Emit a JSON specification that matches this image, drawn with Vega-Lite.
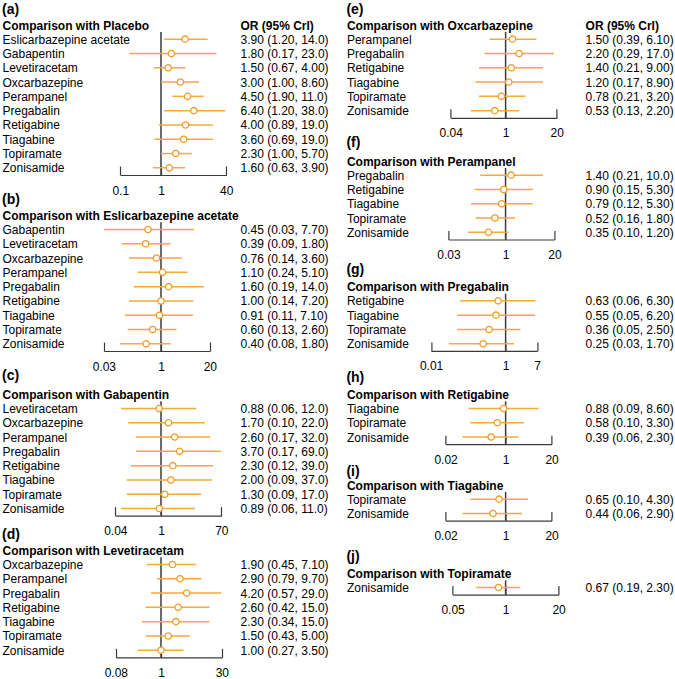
{
"$schema": "https://vega.github.io/schema/vega-lite/v6.json",
"padding": {"left": 2, "top": 3, "right": 0, "bottom": 0},
"background": "white",
"datasets": {"forest": [
{"panel":"a","name":"Eslicarbazepine acetate","or":3.9,"lo":1.2,"hi":14,"ci":"3.90 (1.20, 14.0)"},
{"panel":"a","name":"Gabapentin","or":1.8,"lo":0.17,"hi":23,"ci":"1.80 (0.17, 23.0)"},
{"panel":"a","name":"Levetiracetam","or":1.5,"lo":0.67,"hi":4,"ci":"1.50 (0.67, 4.00)"},
{"panel":"a","name":"Oxcarbazepine","or":3.0,"lo":1.0,"hi":8.6,"ci":"3.00 (1.00, 8.60)"},
{"panel":"a","name":"Perampanel","or":4.5,"lo":1.9,"hi":11,"ci":"4.50 (1.90, 11.0)"},
{"panel":"a","name":"Pregabalin","or":6.4,"lo":1.2,"hi":38,"ci":"6.40 (1.20, 38.0)"},
{"panel":"a","name":"Retigabine","or":4.0,"lo":0.89,"hi":19,"ci":"4.00 (0.89, 19.0)"},
{"panel":"a","name":"Tiagabine","or":3.6,"lo":0.69,"hi":19,"ci":"3.60 (0.69, 19.0)"},
{"panel":"a","name":"Topiramate","or":2.3,"lo":1.0,"hi":5.7,"ci":"2.30 (1.00, 5.70)"},
{"panel":"a","name":"Zonisamide","or":1.6,"lo":0.63,"hi":3.9,"ci":"1.60 (0.63, 3.90)"},
{"panel":"b","name":"Gabapentin","or":0.45,"lo":0.03,"hi":7.7,"ci":"0.45 (0.03, 7.70)"},
{"panel":"b","name":"Levetiracetam","or":0.39,"lo":0.09,"hi":1.8,"ci":"0.39 (0.09, 1.80)"},
{"panel":"b","name":"Oxcarbazepine","or":0.76,"lo":0.14,"hi":3.6,"ci":"0.76 (0.14, 3.60)"},
{"panel":"b","name":"Perampanel","or":1.1,"lo":0.24,"hi":5.1,"ci":"1.10 (0.24, 5.10)"},
{"panel":"b","name":"Pregabalin","or":1.6,"lo":0.19,"hi":14,"ci":"1.60 (0.19, 14.0)"},
{"panel":"b","name":"Retigabine","or":1.0,"lo":0.14,"hi":7.2,"ci":"1.00 (0.14, 7.20)"},
{"panel":"b","name":"Tiagabine","or":0.91,"lo":0.11,"hi":7.1,"ci":"0.91 (0.11, 7.10)"},
{"panel":"b","name":"Topiramate","or":0.6,"lo":0.13,"hi":2.6,"ci":"0.60 (0.13, 2.60)"},
{"panel":"b","name":"Zonisamide","or":0.4,"lo":0.08,"hi":1.8,"ci":"0.40 (0.08, 1.80)"},
{"panel":"c","name":"Levetiracetam","or":0.88,"lo":0.06,"hi":12,"ci":"0.88 (0.06, 12.0)"},
{"panel":"c","name":"Oxcarbazepine","or":1.7,"lo":0.1,"hi":22,"ci":"1.70 (0.10, 22.0)"},
{"panel":"c","name":"Perampanel","or":2.6,"lo":0.17,"hi":32,"ci":"2.60 (0.17, 32.0)"},
{"panel":"c","name":"Pregabalin","or":3.7,"lo":0.17,"hi":69,"ci":"3.70 (0.17, 69.0)"},
{"panel":"c","name":"Retigabine","or":2.3,"lo":0.12,"hi":39,"ci":"2.30 (0.12, 39.0)"},
{"panel":"c","name":"Tiagabine","or":2.0,"lo":0.09,"hi":37,"ci":"2.00 (0.09, 37.0)"},
{"panel":"c","name":"Topiramate","or":1.3,"lo":0.09,"hi":17,"ci":"1.30 (0.09, 17.0)"},
{"panel":"c","name":"Zonisamide","or":0.89,"lo":0.06,"hi":11,"ci":"0.89 (0.06, 11.0)"},
{"panel":"d","name":"Oxcarbazepine","or":1.9,"lo":0.45,"hi":7.1,"ci":"1.90 (0.45, 7.10)"},
{"panel":"d","name":"Perampanel","or":2.9,"lo":0.79,"hi":9.7,"ci":"2.90 (0.79, 9.70)"},
{"panel":"d","name":"Pregabalin","or":4.2,"lo":0.57,"hi":29,"ci":"4.20 (0.57, 29.0)"},
{"panel":"d","name":"Retigabine","or":2.6,"lo":0.42,"hi":15,"ci":"2.60 (0.42, 15.0)"},
{"panel":"d","name":"Tiagabine","or":2.3,"lo":0.34,"hi":15,"ci":"2.30 (0.34, 15.0)"},
{"panel":"d","name":"Topiramate","or":1.5,"lo":0.43,"hi":5,"ci":"1.50 (0.43, 5.00)"},
{"panel":"d","name":"Zonisamide","or":1.0,"lo":0.27,"hi":3.5,"ci":"1.00 (0.27, 3.50)"},
{"panel":"e","name":"Perampanel","or":1.5,"lo":0.39,"hi":6.1,"ci":"1.50 (0.39, 6.10)"},
{"panel":"e","name":"Pregabalin","or":2.2,"lo":0.29,"hi":17,"ci":"2.20 (0.29, 17.0)"},
{"panel":"e","name":"Retigabine","or":1.4,"lo":0.21,"hi":9,"ci":"1.40 (0.21, 9.00)"},
{"panel":"e","name":"Tiagabine","or":1.2,"lo":0.17,"hi":8.9,"ci":"1.20 (0.17, 8.90)"},
{"panel":"e","name":"Topiramate","or":0.78,"lo":0.21,"hi":3.2,"ci":"0.78 (0.21, 3.20)"},
{"panel":"e","name":"Zonisamide","or":0.53,"lo":0.13,"hi":2.2,"ci":"0.53 (0.13, 2.20)"},
{"panel":"f","name":"Pregabalin","or":1.4,"lo":0.21,"hi":10,"ci":"1.40 (0.21, 10.0)"},
{"panel":"f","name":"Retigabine","or":0.9,"lo":0.15,"hi":5.3,"ci":"0.90 (0.15, 5.30)"},
{"panel":"f","name":"Tiagabine","or":0.79,"lo":0.12,"hi":5.3,"ci":"0.79 (0.12, 5.30)"},
{"panel":"f","name":"Topiramate","or":0.52,"lo":0.16,"hi":1.8,"ci":"0.52 (0.16, 1.80)"},
{"panel":"f","name":"Zonisamide","or":0.35,"lo":0.1,"hi":1.2,"ci":"0.35 (0.10, 1.20)"},
{"panel":"g","name":"Retigabine","or":0.63,"lo":0.06,"hi":6.3,"ci":"0.63 (0.06, 6.30)"},
{"panel":"g","name":"Tiagabine","or":0.55,"lo":0.05,"hi":6.2,"ci":"0.55 (0.05, 6.20)"},
{"panel":"g","name":"Topiramate","or":0.36,"lo":0.05,"hi":2.5,"ci":"0.36 (0.05, 2.50)"},
{"panel":"g","name":"Zonisamide","or":0.25,"lo":0.03,"hi":1.7,"ci":"0.25 (0.03, 1.70)"},
{"panel":"h","name":"Tiagabine","or":0.88,"lo":0.09,"hi":8.6,"ci":"0.88 (0.09, 8.60)"},
{"panel":"h","name":"Topiramate","or":0.58,"lo":0.1,"hi":3.3,"ci":"0.58 (0.10, 3.30)"},
{"panel":"h","name":"Zonisamide","or":0.39,"lo":0.06,"hi":2.3,"ci":"0.39 (0.06, 2.30)"},
{"panel":"i","name":"Topiramate","or":0.65,"lo":0.1,"hi":4.3,"ci":"0.65 (0.10, 4.30)"},
{"panel":"i","name":"Zonisamide","or":0.44,"lo":0.06,"hi":2.9,"ci":"0.44 (0.06, 2.90)"},
{"panel":"j","name":"Zonisamide","or":0.67,"lo":0.19,"hi":2.3,"ci":"0.67 (0.19, 2.30)"}
]},
"hconcat": [
{"vconcat": [
 {"title": {"text": "(a)", "offset": 2}, "width": 126, "height": 143, "data": {"name": "forest"}, "transform": [{"filter": "datum.panel === 'a'"}],
  "layer": [
   {"transform": [{"aggregate": [{"op": "count", "as": "n"}]}], "mark": {"type": "rule", "color": "#3a3a3a", "strokeWidth": 1.5},
    "encoding": {"x": {"datum": 1, "type": "quantitative", "scale": {"type": "log", "nice": false, "domain": [0.1, 40], "range": [18.26, 124.26]}, "axis": {"values": [0.1, 1, 40], "title": null, "labelExpr": "format(datum.value, '~g')"}}}},
   {"mark": {"type": "rule", "color": "#F5A93F", "strokeWidth": 1.5},
    "encoding": {"y": {"field": "name", "type": "nominal", "sort": null, "scale": {"type": "point", "padding": 0.5}, "axis": {"title": "Comparison with Placebo", "labelPadding": 100, "titleX": -100}}, "x": {"field": "lo", "type": "quantitative"}, "x2": {"field": "hi"}}},
   {"mark": {"type": "point", "shape": "circle", "filled": true, "fill": "white", "stroke": "#F29B22", "strokeWidth": 1.3, "size": 40, "opacity": 1},
    "encoding": {"y": {"field": "name", "type": "nominal", "sort": null, "scale": {"type": "point", "padding": 0.5}, "axis": null}, "x": {"field": "or", "type": "quantitative"}}},
   {"mark": {"type": "point", "opacity": 0},
    "encoding": {"y": {"field": "ci", "type": "nominal", "sort": null, "scale": {"type": "point", "padding": 0.5}, "axis": {"orient": "right", "title": "OR (95% CrI)", "labelPadding": 12, "titleX": 12}}}}
  ],
  "resolve": {"scale": {"y": "independent"}, "axis": {"y": "independent"}}},
 {"vconcat": [
  {"title": {"text": "(b)", "offset": 2}, "width": 126, "height": 128.7, "data": {"name": "forest"}, "transform": [{"filter": "datum.panel === 'b'"}],
   "layer": [
    {"transform": [{"aggregate": [{"op": "count", "as": "n"}]}], "mark": {"type": "rule", "color": "#3a3a3a", "strokeWidth": 1.5},
     "encoding": {"x": {"datum": 1, "type": "quantitative", "scale": {"type": "log", "nice": false, "domain": [0.03, 20], "range": [1.83, 107.83]}, "axis": {"values": [0.03, 1, 20], "title": null, "labelExpr": "format(datum.value, '~g')"}}}},
    {"mark": {"type": "rule", "color": "#F5A93F", "strokeWidth": 1.5},
     "encoding": {"y": {"field": "name", "type": "nominal", "sort": null, "scale": {"type": "point", "padding": 0.5}, "axis": {"title": "Comparison with Eslicarbazepine acetate", "labelPadding": 100, "titleX": -100}}, "x": {"field": "lo", "type": "quantitative"}, "x2": {"field": "hi"}}},
    {"mark": {"type": "point", "shape": "circle", "filled": true, "fill": "white", "stroke": "#F29B22", "strokeWidth": 1.3, "size": 40, "opacity": 1},
     "encoding": {"y": {"field": "name", "type": "nominal", "sort": null, "scale": {"type": "point", "padding": 0.5}, "axis": null}, "x": {"field": "or", "type": "quantitative"}}},
    {"mark": {"type": "point", "opacity": 0},
     "encoding": {"y": {"field": "ci", "type": "nominal", "sort": null, "scale": {"type": "point", "padding": 0.5}, "axis": {"orient": "right", "title": null, "labelPadding": 12}}}}
   ],
   "resolve": {"scale": {"y": "independent"}, "axis": {"y": "independent"}}},
  {"vconcat": [
   {"title": {"text": "(c)", "offset": 5}, "width": 126, "height": 114.4, "data": {"name": "forest"}, "transform": [{"filter": "datum.panel === 'c'"}],
    "layer": [
     {"transform": [{"aggregate": [{"op": "count", "as": "n"}]}], "mark": {"type": "rule", "color": "#3a3a3a", "strokeWidth": 1.5},
      "encoding": {"x": {"datum": 1, "type": "quantitative", "scale": {"type": "log", "nice": false, "domain": [0.04, 70], "range": [13.31, 119.31]}, "axis": {"values": [0.04, 1, 70], "title": null, "labelExpr": "format(datum.value, '~g')"}}}},
     {"mark": {"type": "rule", "color": "#F5A93F", "strokeWidth": 1.5},
      "encoding": {"y": {"field": "name", "type": "nominal", "sort": null, "scale": {"type": "point", "padding": 0.5}, "axis": {"title": "Comparison with Gabapentin", "labelPadding": 100, "titleX": -100}}, "x": {"field": "lo", "type": "quantitative"}, "x2": {"field": "hi"}}},
     {"mark": {"type": "point", "shape": "circle", "filled": true, "fill": "white", "stroke": "#F29B22", "strokeWidth": 1.3, "size": 40, "opacity": 1},
      "encoding": {"y": {"field": "name", "type": "nominal", "sort": null, "scale": {"type": "point", "padding": 0.5}, "axis": null}, "x": {"field": "or", "type": "quantitative"}}},
     {"mark": {"type": "point", "opacity": 0},
      "encoding": {"y": {"field": "ci", "type": "nominal", "sort": null, "scale": {"type": "point", "padding": 0.5}, "axis": {"orient": "right", "title": null, "labelPadding": 12}}}}
    ],
    "resolve": {"scale": {"y": "independent"}, "axis": {"y": "independent"}}},
   {"title": {"text": "(d)", "offset": 2}, "width": 126, "height": 100.1, "data": {"name": "forest"}, "transform": [{"filter": "datum.panel === 'd'"}],
    "layer": [
     {"transform": [{"aggregate": [{"op": "count", "as": "n"}]}], "mark": {"type": "rule", "color": "#3a3a3a", "strokeWidth": 1.5},
      "encoding": {"x": {"datum": 1, "type": "quantitative", "scale": {"type": "log", "nice": false, "domain": [0.08, 30], "range": [13.83, 119.83]}, "axis": {"values": [0.08, 1, 30], "title": null, "labelExpr": "format(datum.value, '~g')"}}}},
     {"mark": {"type": "rule", "color": "#F5A93F", "strokeWidth": 1.5},
      "encoding": {"y": {"field": "name", "type": "nominal", "sort": null, "scale": {"type": "point", "padding": 0.5}, "axis": {"title": "Comparison with Levetiracetam", "labelPadding": 100, "titleX": -100}}, "x": {"field": "lo", "type": "quantitative"}, "x2": {"field": "hi"}}},
     {"mark": {"type": "point", "shape": "circle", "filled": true, "fill": "white", "stroke": "#F29B22", "strokeWidth": 1.3, "size": 40, "opacity": 1},
      "encoding": {"y": {"field": "name", "type": "nominal", "sort": null, "scale": {"type": "point", "padding": 0.5}, "axis": null}, "x": {"field": "or", "type": "quantitative"}}},
     {"mark": {"type": "point", "opacity": 0},
      "encoding": {"y": {"field": "ci", "type": "nominal", "sort": null, "scale": {"type": "point", "padding": 0.5}, "axis": {"orient": "right", "title": null, "labelPadding": 12}}}}
    ],
    "resolve": {"scale": {"y": "independent"}, "axis": {"y": "independent"}}}
  ], "spacing": -9}
 ], "spacing": -3}
], "spacing": -2.7},
{"vconcat": [
 {"title": {"text": "(e)", "offset": 2}, "width": 129, "height": 85.8, "data": {"name": "forest"}, "transform": [{"filter": "datum.panel === 'e'"}],
  "layer": [
   {"transform": [{"aggregate": [{"op": "count", "as": "n"}]}], "mark": {"type": "rule", "color": "#3a3a3a", "strokeWidth": 1.5},
    "encoding": {"x": {"datum": 1, "type": "quantitative", "scale": {"type": "log", "nice": false, "domain": [0.04, 20], "range": [20.3, 126.3]}, "axis": {"values": [0.04, 1, 20], "title": null, "labelExpr": "format(datum.value, '~g')"}}}},
   {"mark": {"type": "rule", "color": "#F5A93F", "strokeWidth": 1.5},
    "encoding": {"y": {"field": "name", "type": "nominal", "sort": null, "scale": {"type": "point", "padding": 0.5}, "axis": {"title": "Comparison with Oxcarbazepine", "labelPadding": 84, "titleX": -84}}, "x": {"field": "lo", "type": "quantitative"}, "x2": {"field": "hi"}}},
   {"mark": {"type": "point", "shape": "circle", "filled": true, "fill": "white", "stroke": "#F29B22", "strokeWidth": 1.3, "size": 40, "opacity": 1},
    "encoding": {"y": {"field": "name", "type": "nominal", "sort": null, "scale": {"type": "point", "padding": 0.5}, "axis": null}, "x": {"field": "or", "type": "quantitative"}}},
   {"mark": {"type": "point", "opacity": 0},
    "encoding": {"y": {"field": "ci", "type": "nominal", "sort": null, "scale": {"type": "point", "padding": 0.5}, "axis": {"orient": "right", "title": "OR (95% CrI)", "labelPadding": 25.7, "titleX": 25.7}}}}
  ],
  "resolve": {"scale": {"y": "independent"}, "axis": {"y": "independent"}}},
 {"vconcat": [
  {"title": {"text": "(f)", "offset": 4.7}, "width": 129, "height": 71.5, "data": {"name": "forest"}, "transform": [{"filter": "datum.panel === 'f'"}],
   "layer": [
    {"transform": [{"aggregate": [{"op": "count", "as": "n"}]}], "mark": {"type": "rule", "color": "#3a3a3a", "strokeWidth": 1.5},
     "encoding": {"x": {"datum": 1, "type": "quantitative", "scale": {"type": "log", "nice": false, "domain": [0.03, 20], "range": [18, 124]}, "axis": {"values": [0.03, 1, 20], "title": null, "labelExpr": "format(datum.value, '~g')"}}}},
    {"mark": {"type": "rule", "color": "#F5A93F", "strokeWidth": 1.5},
     "encoding": {"y": {"field": "name", "type": "nominal", "sort": null, "scale": {"type": "point", "padding": 0.5}, "axis": {"title": "Comparison with Perampanel", "labelPadding": 84, "titleX": -84}}, "x": {"field": "lo", "type": "quantitative"}, "x2": {"field": "hi"}}},
    {"mark": {"type": "point", "shape": "circle", "filled": true, "fill": "white", "stroke": "#F29B22", "strokeWidth": 1.3, "size": 40, "opacity": 1},
     "encoding": {"y": {"field": "name", "type": "nominal", "sort": null, "scale": {"type": "point", "padding": 0.5}, "axis": null}, "x": {"field": "or", "type": "quantitative"}}},
    {"mark": {"type": "point", "opacity": 0},
     "encoding": {"y": {"field": "ci", "type": "nominal", "sort": null, "scale": {"type": "point", "padding": 0.5}, "axis": {"orient": "right", "title": null, "labelPadding": 25.7}}}}
   ],
   "resolve": {"scale": {"y": "independent"}, "axis": {"y": "independent"}}},
  {"vconcat": [
   {"title": {"text": "(g)", "offset": 3.7}, "width": 129, "height": 57.2, "data": {"name": "forest"}, "transform": [{"filter": "datum.panel === 'g'"}],
    "layer": [
     {"transform": [{"aggregate": [{"op": "count", "as": "n"}]}], "mark": {"type": "rule", "color": "#3a3a3a", "strokeWidth": 1.5},
      "encoding": {"x": {"datum": 1, "type": "quantitative", "scale": {"type": "log", "nice": false, "domain": [0.01, 7], "range": [0.7, 106.7]}, "axis": {"values": [0.01, 1, 7], "title": null, "labelExpr": "format(datum.value, '~g')"}}}},
     {"mark": {"type": "rule", "color": "#F5A93F", "strokeWidth": 1.5},
      "encoding": {"y": {"field": "name", "type": "nominal", "sort": null, "scale": {"type": "point", "padding": 0.5}, "axis": {"title": "Comparison with Pregabalin", "labelPadding": 84, "titleX": -84}}, "x": {"field": "lo", "type": "quantitative"}, "x2": {"field": "hi"}}},
     {"mark": {"type": "point", "shape": "circle", "filled": true, "fill": "white", "stroke": "#F29B22", "strokeWidth": 1.3, "size": 40, "opacity": 1},
      "encoding": {"y": {"field": "name", "type": "nominal", "sort": null, "scale": {"type": "point", "padding": 0.5}, "axis": null}, "x": {"field": "or", "type": "quantitative"}}},
     {"mark": {"type": "point", "opacity": 0},
      "encoding": {"y": {"field": "ci", "type": "nominal", "sort": null, "scale": {"type": "point", "padding": 0.5}, "axis": {"orient": "right", "title": null, "labelPadding": 25.7}}}}
    ],
    "resolve": {"scale": {"y": "independent"}, "axis": {"y": "independent"}}},
   {"vconcat": [
    {"title": {"text": "(h)", "offset": 3.7}, "width": 129, "height": 42.9, "data": {"name": "forest"}, "transform": [{"filter": "datum.panel === 'h'"}],
     "layer": [
      {"transform": [{"aggregate": [{"op": "count", "as": "n"}]}], "mark": {"type": "rule", "color": "#3a3a3a", "strokeWidth": 1.5},
       "encoding": {"x": {"datum": 1, "type": "quantitative", "scale": {"type": "log", "nice": false, "domain": [0.02, 20], "range": [15.2, 121.2]}, "axis": {"values": [0.02, 1, 20], "title": null, "labelExpr": "format(datum.value, '~g')"}}}},
      {"mark": {"type": "rule", "color": "#F5A93F", "strokeWidth": 1.5},
       "encoding": {"y": {"field": "name", "type": "nominal", "sort": null, "scale": {"type": "point", "padding": 0.5}, "axis": {"title": "Comparison with Retigabine", "labelPadding": 84, "titleX": -84}}, "x": {"field": "lo", "type": "quantitative"}, "x2": {"field": "hi"}}},
      {"mark": {"type": "point", "shape": "circle", "filled": true, "fill": "white", "stroke": "#F29B22", "strokeWidth": 1.3, "size": 40, "opacity": 1},
       "encoding": {"y": {"field": "name", "type": "nominal", "sort": null, "scale": {"type": "point", "padding": 0.5}, "axis": null}, "x": {"field": "or", "type": "quantitative"}}},
      {"mark": {"type": "point", "opacity": 0},
       "encoding": {"y": {"field": "ci", "type": "nominal", "sort": null, "scale": {"type": "point", "padding": 0.5}, "axis": {"orient": "right", "title": null, "labelPadding": 25.7}}}}
     ],
     "resolve": {"scale": {"y": "independent"}, "axis": {"y": "independent"}}},
    {"vconcat": [
     {"title": {"text": "(i)", "offset": 0.3}, "width": 129, "height": 28.6, "data": {"name": "forest"}, "transform": [{"filter": "datum.panel === 'i'"}],
      "layer": [
       {"transform": [{"aggregate": [{"op": "count", "as": "n"}]}], "mark": {"type": "rule", "color": "#3a3a3a", "strokeWidth": 1.5},
        "encoding": {"x": {"datum": 1, "type": "quantitative", "scale": {"type": "log", "nice": false, "domain": [0.02, 20], "range": [15.2, 121.2]}, "axis": {"values": [0.02, 1, 20], "title": null, "labelExpr": "format(datum.value, '~g')"}}}},
       {"mark": {"type": "rule", "color": "#F5A93F", "strokeWidth": 1.5},
        "encoding": {"y": {"field": "name", "type": "nominal", "sort": null, "scale": {"type": "point", "padding": 0.5}, "axis": {"title": "Comparison with Tiagabine", "labelPadding": 84, "titleX": -84}}, "x": {"field": "lo", "type": "quantitative"}, "x2": {"field": "hi"}}},
       {"mark": {"type": "point", "shape": "circle", "filled": true, "fill": "white", "stroke": "#F29B22", "strokeWidth": 1.3, "size": 40, "opacity": 1},
        "encoding": {"y": {"field": "name", "type": "nominal", "sort": null, "scale": {"type": "point", "padding": 0.5}, "axis": null}, "x": {"field": "or", "type": "quantitative"}}},
       {"mark": {"type": "point", "opacity": 0},
        "encoding": {"y": {"field": "ci", "type": "nominal", "sort": null, "scale": {"type": "point", "padding": 0.5}, "axis": {"orient": "right", "title": null, "labelPadding": 25.7}}}}
      ],
      "resolve": {"scale": {"y": "independent"}, "axis": {"y": "independent"}}},
     {"title": {"text": "(j)", "offset": 3.7}, "width": 129, "height": 14.3, "data": {"name": "forest"}, "transform": [{"filter": "datum.panel === 'j'"}],
      "layer": [
       {"transform": [{"aggregate": [{"op": "count", "as": "n"}]}], "mark": {"type": "rule", "color": "#3a3a3a", "strokeWidth": 1.5},
        "encoding": {"x": {"datum": 1, "type": "quantitative", "scale": {"type": "log", "nice": false, "domain": [0.05, 20], "range": [22.2, 128.2]}, "axis": {"values": [0.05, 1, 20], "title": null, "labelExpr": "format(datum.value, '~g')"}}}},
       {"mark": {"type": "rule", "color": "#F5A93F", "strokeWidth": 1.5},
        "encoding": {"y": {"field": "name", "type": "nominal", "sort": null, "scale": {"type": "point", "padding": 0.5}, "axis": {"title": "Comparison with Topiramate", "labelPadding": 84, "titleX": -84}}, "x": {"field": "lo", "type": "quantitative"}, "x2": {"field": "hi"}}},
       {"mark": {"type": "point", "shape": "circle", "filled": true, "fill": "white", "stroke": "#F29B22", "strokeWidth": 1.3, "size": 40, "opacity": 1},
        "encoding": {"y": {"field": "name", "type": "nominal", "sort": null, "scale": {"type": "point", "padding": 0.5}, "axis": null}, "x": {"field": "or", "type": "quantitative"}}},
       {"mark": {"type": "point", "opacity": 0},
        "encoding": {"y": {"field": "ci", "type": "nominal", "sort": null, "scale": {"type": "point", "padding": 0.5}, "axis": {"orient": "right", "title": null, "labelPadding": 25.7}}}}
      ],
      "resolve": {"scale": {"y": "independent"}, "axis": {"y": "independent"}}}
    ], "spacing": 7.3}
   ], "spacing": -1.3}
  ], "spacing": -2.4}
 ], "spacing": 1.7}
], "spacing": -3}
],
"spacing": 17.4,
"config": {
 "font": "Liberation Sans",
 "view": {"stroke": null},
 "axis": {"grid": false, "labelFont": "Liberation Sans", "titleFont": "Liberation Sans", "labelFontSize": 12, "labelColor": "#000", "titleColor": "#000"},
 "axisY": {"domain": false, "ticks": false, "labelAlign": "left", "labelBaseline": "middle", "labelLimit": 0, "titleAngle": 0, "titleAlign": "left", "titleBaseline": "middle", "titleY": -7, "titleFontSize": 12, "titleFontWeight": "bold"},
 "axisX": {"domainColor": "#3a3a3a", "domainWidth": 1.2, "tickColor": "#3a3a3a", "tickWidth": 1.2, "tickSize": -9, "labelPadding": 19, "labelFlush": false, "labelOverlap": false},
 "title": {"anchor": "start", "frame": "bounds", "fontSize": 14, "fontWeight": "bold", "color": "#000", "font": "Liberation Sans"}
}
}
